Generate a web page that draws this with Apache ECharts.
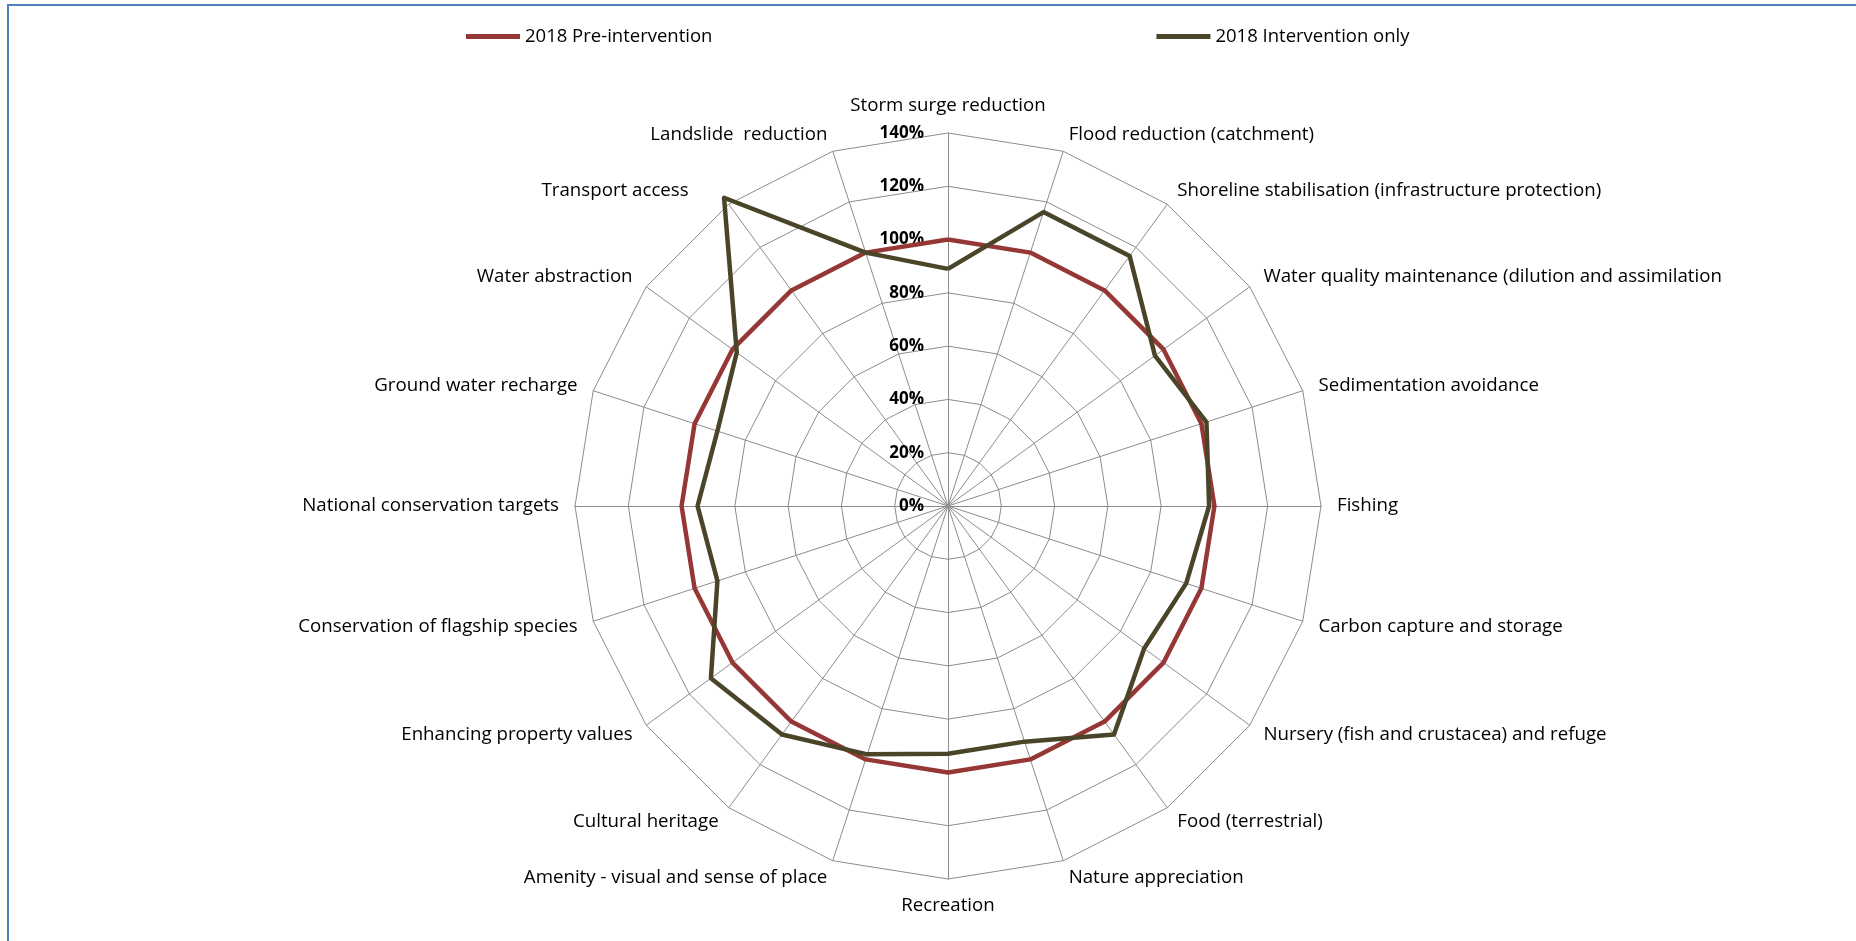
<!DOCTYPE html>
<html>
<head>
<meta charset="utf-8">
<script src="https://cdn.jsdelivr.net/npm/echarts@6/dist/echarts.min.js"></script>
<style>
html,body{margin:0;padding:0;background:#fff;overflow:hidden;}
#frame{position:absolute;left:7px;top:4px;width:1860px;height:950px;border-top:2px solid #4F81BD;border-left:2px solid #4F81BD;}
#chart{position:absolute;left:0;top:0;width:1856px;height:941px;}
</style>
</head>
<body>
<div id="frame"></div>
<div id="chart"></div>
<script>
// Categories in clockwise order starting at the top
const categories = [
  "Storm surge reduction",
  "Flood reduction (catchment)",
  "Shoreline stabilisation (infrastructure protection)",
  "Water quality maintenance (dilution and assimilation",
  "Sedimentation avoidance",
  "Fishing",
  "Carbon capture and storage",
  "Nursery (fish and crustacea) and refuge",
  "Food (terrestrial)",
  "Nature appreciation",
  "Recreation",
  "Amenity - visual and sense of place",
  "Cultural heritage",
  "Enhancing property values",
  "Conservation of flagship species",
  "National conservation targets",
  "Ground water recharge",
  "Water abstraction",
  "Transport access",
  "Landslide  reduction"
];
const seriesNames = ["2018 Pre-intervention", "2018 Intervention only"];
const preIntervention = [100,100,100,100,100,100,100,100,100,100,100,100,100,100,100,100,100,100,100,100];
const interventionOnly = [89,116,116,96,102,98,94,91,106,93,93,98,106,110,91,94,91,98,143,100];
const axisMin = 0;
const axisMax = 140;
const axisStep = 20;

// ECharts places radar indicators counter-clockwise; reorder so they run clockwise
const order = [0].concat(categories.map((_, i) => i).slice(1).reverse());
const reorder = arr => order.map(i => arr[i]);

const indicators = order.map((i, k) => {
  const ang = i / categories.length * 2 * Math.PI; // clockwise from top
  const ind = {
    name: categories[i], min: axisMin, max: axisMax,
    nameGap: 16 + 1.5 * Math.abs(Math.cos(ang))
  };
  // like Excel, push a label outward when a point overshoots the outer ring
  const overshoot = Math.max(preIntervention[i], interventionOnly[i]) > axisMax;
  if (overshoot) {
    const left = Math.sin(ang) < 0;
    ind.nameTextStyle = { padding: left ? [0, 30, 0, 0] : [0, 0, 0, 30] };
  }
  if (k === 0) {
    ind.axisLabel = {
      show: true,
      formatter: v => v + '%',
      fontFamily: 'Open Sans',
      fontWeight: 'bold',
      fontSize: 17,
      color: '#000',
      align: 'right',
      verticalAlign: 'middle',
      margin: 24
    };
  }
  return ind;
});

const chart = echarts.init(document.getElementById('chart'), null, { renderer: 'canvas' });
chart.setOption({
  animation: false,
  backgroundColor: 'transparent',
  legend: {
    left: 461,
    top: 22,
    itemGap: 444,
    itemWidth: 54,
    itemHeight: 5,
    icon: 'rect',
    textStyle: { fontFamily: 'Open Sans', fontSize: 18.5, color: '#000' },
    data: seriesNames
  },
  radar: {
    center: [948, 506],
    radius: 373,
    startAngle: 90,
    shape: 'polygon',
    splitNumber: (axisMax - axisMin) / axisStep,
    nameGap: 16,
    axisName: { color: '#000', fontFamily: 'Open Sans', fontSize: 18.7 },
    axisLine: { lineStyle: { color: '#8c8c8c', width: 1 } },
    splitLine: { lineStyle: { color: '#8c8c8c', width: 1 } },
    splitArea: { show: false },
    axisLabel: { show: false },
    indicator: indicators
  },
  series: [{
    type: 'radar',
    symbol: 'none',
    data: [
      { name: seriesNames[0], value: reorder(preIntervention),
        lineStyle: { color: '#953735', width: 4.5 }, itemStyle: { color: '#953735' } },
      { name: seriesNames[1], value: reorder(interventionOnly),
        lineStyle: { color: '#4A4529', width: 4.5 }, itemStyle: { color: '#4A4529' } }
    ]
  }]
});
</script>
</body>
</html>
